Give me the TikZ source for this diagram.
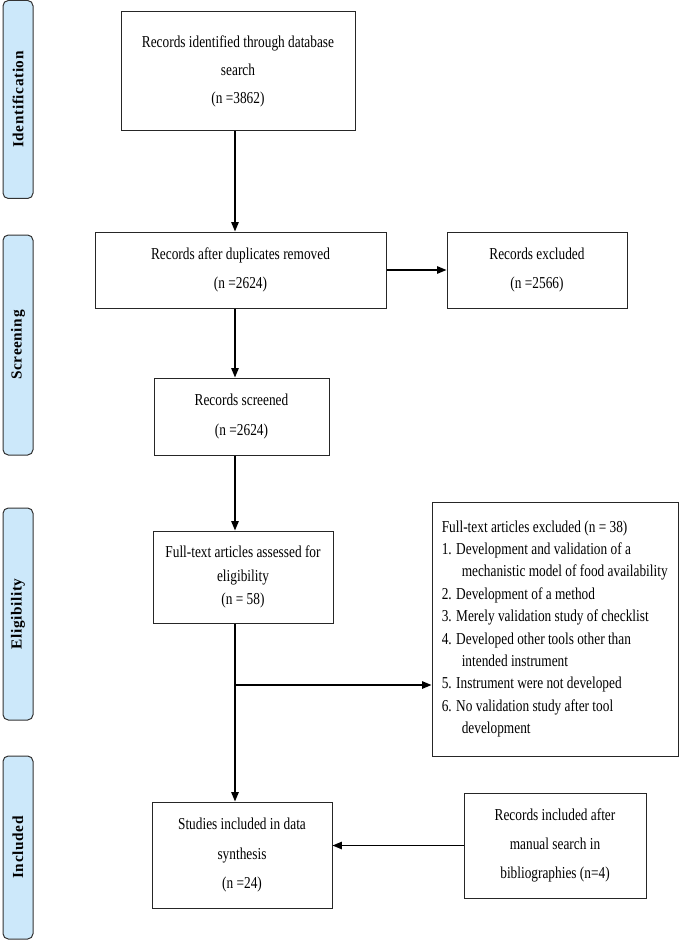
\documentclass[tikz,border=0pt]{standalone}
\usepackage{fontspec}
\setmainfont{Liberation Serif}[FakeStretch=0.8]
\newfontfamily\sidefont{Liberation Serif}[LetterSpace=4]
\usetikzlibrary{arrows.meta}
\definecolor{sideblue}{RGB}{204,232,250}

\begin{document}
\begin{tikzpicture}[x=0.75pt,y=-0.75pt,
        box/.style={draw=black!85,line width=0.75pt,align=center,inner sep=2pt,font=\fontsize{12.5}{22}\selectfont},
        phase/.style={draw=black!80,line width=0.75pt,fill=sideblue,rounded corners=4pt,rotate=90,minimum height=22.5pt,inner sep=0pt,font=\sidefont\bfseries\fontsize{11.5}{12}\selectfont},
        arr/.style={line width=1.1pt,-{Triangle[length=7pt,width=5.5pt]}}]
    \useasboundingbox (0,0) rectangle (680,941);

    % phases on the left
    \node[phase,minimum width=148.5pt] (p1) at (18,99.5){Identification};
    \node[phase,minimum width=165pt] (p2) at (18,345){Screening};
    \node[phase,minimum width=159pt] (p3) at (18,614){Eligibility};
    \node[phase,minimum width=137.25pt] (p4) at (18,847.5){Included};

    % flow boxes
    \node[box,minimum width=175.5pt,minimum height=89.25pt,font=\fontsize{12.5}{21}\selectfont] (a) at (238,71.5){Records identified through database\\search\\(n =3862)};
    \node[box,minimum width=218.25pt,minimum height=57pt] (b) at (240.5,270){Records after duplicates removed\\(n =2624)};
    \node[box,minimum width=135pt,minimum height=57pt] (c) at (537,270){Records excluded\\(n =2566)};
    \node[box,minimum width=131.25pt,minimum height=57.75pt] (d) at (241.5,416.5){Records screened\\(n =2624)};
    \node[box,minimum width=135pt,minimum height=69pt,font=\fontsize{12.5}{17.6}\selectfont] (e) at (243,577){Full-text articles assessed for\\eligibility\\(n = 58)};
    \node[box,minimum width=184.5pt,minimum height=190.5pt] (f) at (555,629){};
    \node[anchor=north west,align=left,inner sep=0pt,font=\fontsize{12.5}{16.8}\selectfont] (ftxt) at ([xshift=7.5pt,yshift=-14pt]f.north west){Full-text articles excluded (n = 38)\\
        1. Development and validation of a\\
        \hspace*{15pt}mechanistic model of food availability\\
        2. Development of a method\\
        3. Merely validation study of checklist\\
        4. Developed other tools other than\\
        \hspace*{15pt}intended instrument\\
        5. Instrument were not developed\\
        6. No validation study after tool\\
        \hspace*{15pt}development};
    \node[box,minimum width=135pt,minimum height=79.5pt] (g) at (242,855){Studies included in data\\synthesis\\(n =24)};
    \node[box,minimum width=136.5pt,minimum height=78.75pt] (h) at (555,845.5){Records included after\\manual search in\\bibliographies (n=4)};

    % connectors
    \coordinate (sp) at (235,0);
    \coordinate (br) at (235,685);
    \draw[arr] (a.south -| sp) -- (b.north -| sp);
    \draw[arr] (b) -- (c);
    \draw[arr] (b.south -| sp) -- (d.north -| sp);
    \draw[arr] (d.south -| sp) -- (e.north -| sp);
    \draw[arr] (e.south -| sp) -- (g.north -| sp);
    \draw[arr] (br) -- (br -| f.west);
    \draw[arr] (h.west) -- (h.west -| g.east);

\end{tikzpicture}
\end{document}
